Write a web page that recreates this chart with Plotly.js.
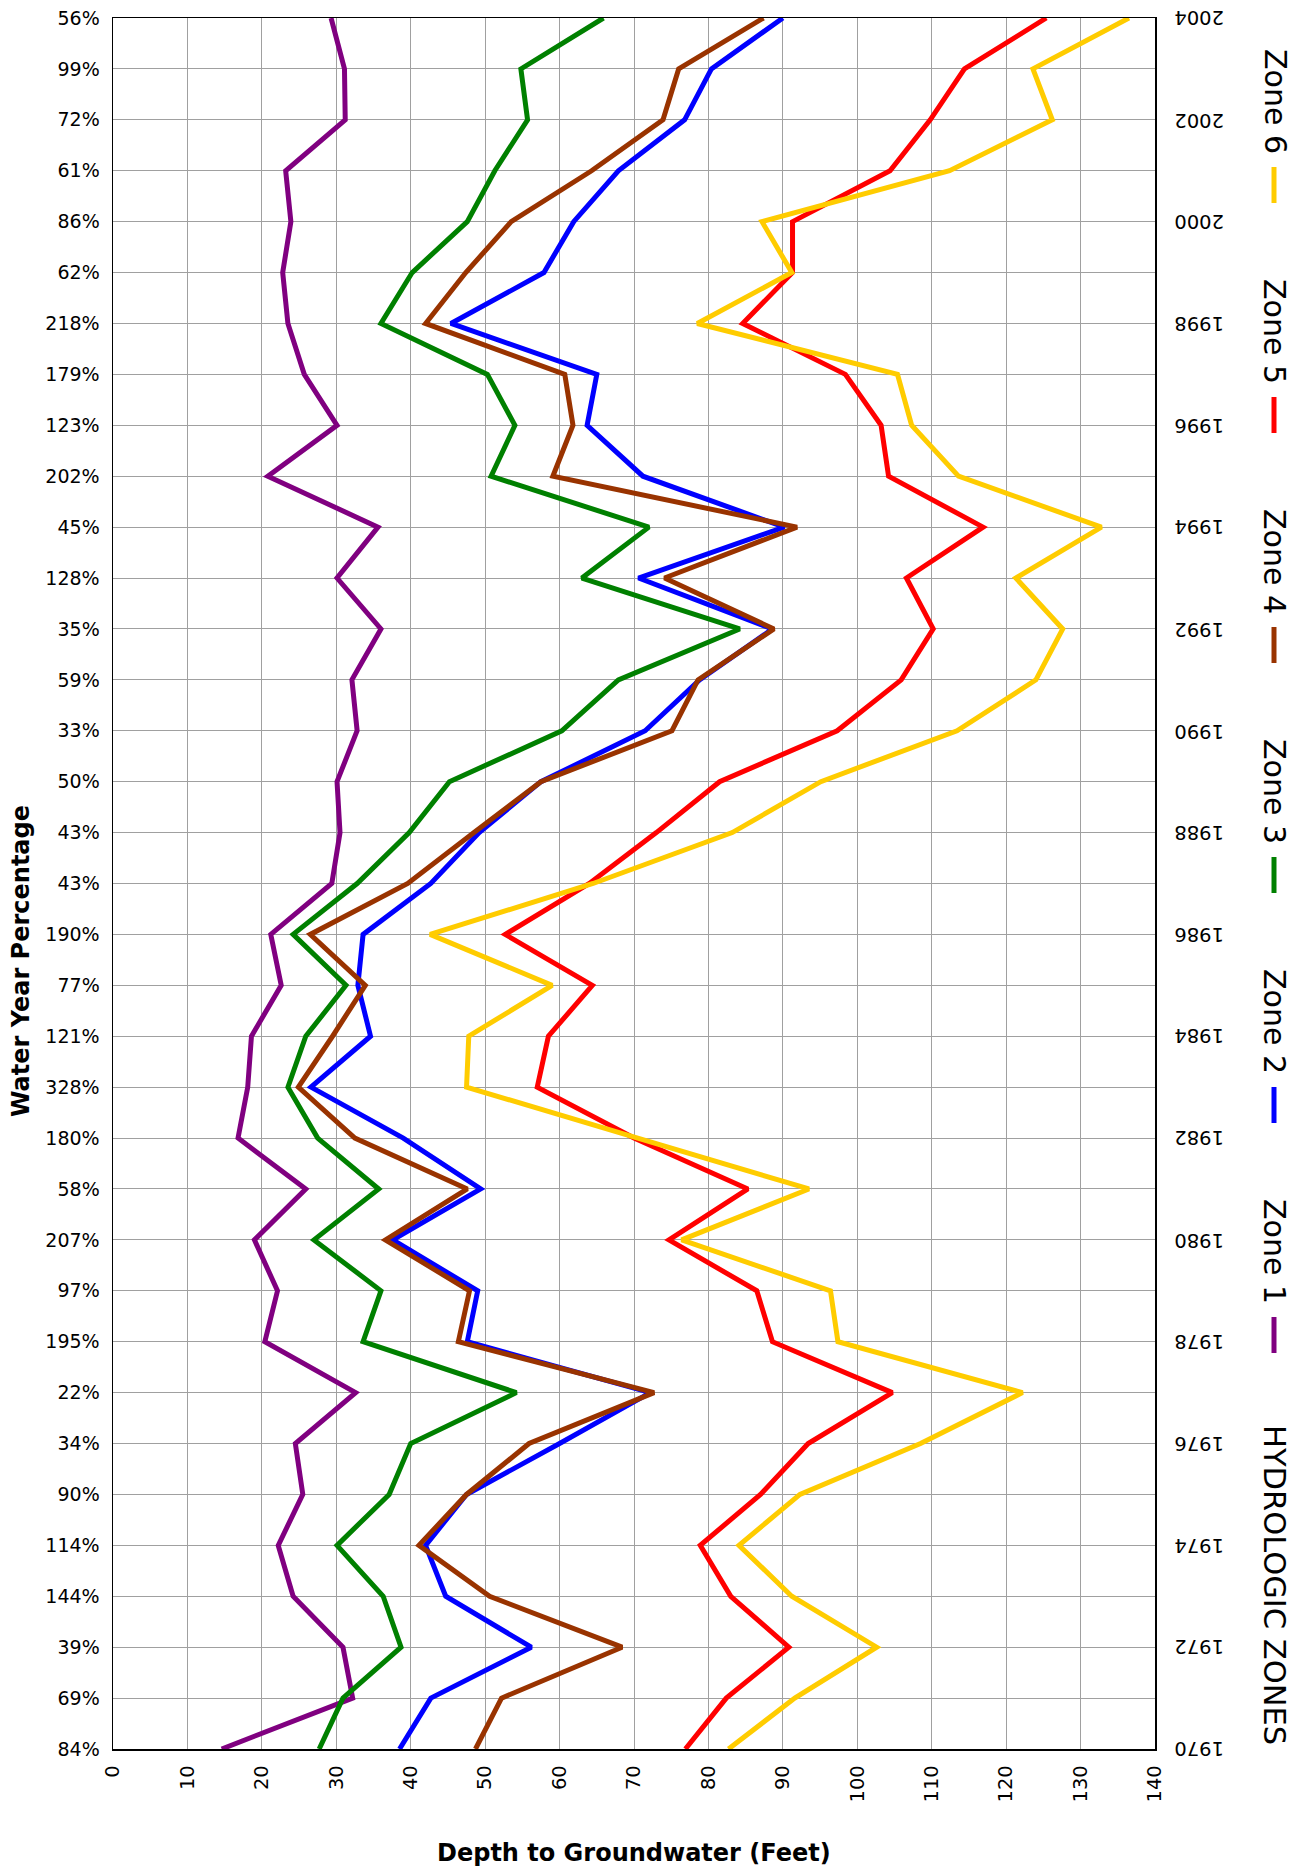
<!DOCTYPE html>
<html>
<head>
<meta charset="utf-8">
<script src="https://cdn.plot.ly/plotly-3.0.1.min.js"></script>
<style>
  html, body { margin: 0; padding: 0; background: #ffffff; }
  #chart { width: 1304px; height: 1873px; }
</style>
</head>
<body>
<div id="chart"></div>
<script>
// ---- Data ----
const years = [1970, 1971, 1972, 1973, 1974, 1975, 1976, 1977, 1978, 1979,
               1980, 1981, 1982, 1983, 1984, 1985, 1986, 1987, 1988, 1989,
               1990, 1991, 1992, 1993, 1994, 1995, 1996, 1997, 1998, 1999,
               2000, 2001, 2002, 2003, 2004];

const waterYearPct = ["84%", "69%", "39%", "144%", "114%", "90%", "34%", "22%", "195%", "97%",
                      "207%", "58%", "180%", "328%", "121%", "77%", "190%", "43%", "43%", "50%",
                      "33%", "59%", "35%", "128%", "45%", "202%", "123%", "179%", "218%", "62%",
                      "86%", "61%", "72%", "99%", "56%"];

const yearTicks = [1970, 1972, 1974, 1976, 1978, 1980, 1982, 1984, 1986, 1988,
                   1990, 1992, 1994, 1996, 1998, 2000, 2002, 2004];

const depthTicks = [0, 10, 20, 30, 40, 50, 60, 70, 80, 90, 100, 110, 120, 130, 140];

const zone1 = [14.6, 32.2, 30.9, 24.2, 22.2, 25.5, 24.5, 32.6, 20.4, 22.1,
               19.0, 25.9, 16.8, 18.1, 18.6, 22.6, 21.2, 29.4, 30.5, 30.1,
               32.8, 32.1, 36.0, 30.1, 35.6, 20.8, 30.1, 25.7, 23.5, 22.8,
               23.9, 23.2, 31.2, 31.1, 29.3];

const zone2 = [38.5, 42.7, 56.2, 44.7, 42.0, 47.5, 60.0, 72.2, 47.6, 49.0,
               37.6, 49.4, 39.0, 26.6, 34.6, 32.9, 33.6, 42.7, 49.2, 57.5,
               71.5, 78.8, 88.6, 70.6, 90.2, 71.2, 63.7, 65.0, 45.4, 57.9,
               61.9, 67.9, 76.8, 80.4, 90.0];

const zone3 = [27.7, 30.9, 38.7, 36.3, 30.1, 37.1, 40.0, 54.2, 33.6, 36.0,
               27.0, 35.7, 27.5, 23.5, 25.9, 31.3, 24.2, 32.8, 39.8, 45.2,
               60.3, 67.9, 84.2, 63.0, 72.0, 50.8, 54.0, 50.3, 36.0, 40.2,
               47.6, 51.3, 55.7, 54.8, 65.9];

const zone4 = [48.7, 52.2, 68.4, 50.6, 41.1, 47.5, 55.9, 72.7, 46.4, 47.9,
               36.6, 47.6, 32.5, 24.9, 29.5, 33.9, 26.5, 39.6, 48.5, 57.5,
               75.1, 78.6, 88.8, 74.1, 91.9, 59.1, 61.8, 60.7, 42.0, 47.4,
               53.5, 64.3, 73.9, 76.0, 87.4];

const zone5 = [76.9, 82.4, 90.8, 83.0, 78.9, 87.0, 93.4, 104.7, 88.6, 86.5,
               74.7, 85.3, 70.0, 57.0, 58.5, 64.4, 52.7, 64.0, 73.0, 81.5,
               97.3, 105.9, 110.2, 106.6, 116.9, 104.2, 103.2, 98.4, 84.6, 91.3,
               91.3, 104.4, 109.8, 114.4, 125.4];

const zone6 = [82.7, 91.6, 102.6, 91.2, 84.1, 92.3, 108.5, 122.2, 97.4, 96.4,
               76.4, 93.5, 70.5, 47.5, 47.8, 59.0, 42.6, 64.5, 83.2, 95.1,
               113.4, 124.0, 127.6, 121.3, 132.8, 113.6, 107.3, 105.4, 78.5, 91.2,
               87.2, 112.4, 126.2, 123.6, 136.5];

const zoneNames = ["Zone 1", "Zone 2", "Zone 3", "Zone 4", "Zone 5", "Zone 6"];
const zoneData = [zone1, zone2, zone3, zone4, zone5, zone6];
const zoneColors = ["#800080", "#0000FF", "#008000", "#993300", "#FF0000", "#FFCC00"];

// ---- Geometry (pixels) ----
const W = 1304, H = 1873;
const M = { l: 113, r: 149, t: 18, b: 124 };
const PW = W - M.l - M.r, PH = H - M.t - M.b;
const px2x = (px) => (px - M.l) / PW;
const py2y = (py) => (H - M.b - py) / PH;

const FONT = "DejaVu Sans, Verdana, sans-serif";

const traces = zoneData.map((vals, i) => ({
  type: "scatter",
  mode: "lines",
  x: vals,
  y: years,
  name: zoneNames[i],
  line: { color: zoneColors[i], width: 5 },
  showlegend: false
}));

const annotations = [];
const shapes = [];

// ---- Right-side year labels (upside down), placed on the y data scale ----
yearTicks.forEach((yr) => {
  annotations.push({
    xref: "paper", yref: "y", x: px2x(1199), y: yr,
    text: String(yr), textangle: 180, showarrow: false,
    font: { family: FONT, size: 19.5, color: "#000000" },
    xanchor: "center", yanchor: "middle"
  });
});

// ---- Legend (rotated) built from zone arrays ----
const legendX = px2x(1275);
for (let k = 0; k < zoneNames.length; k++) {
  const idx = zoneNames.length - 1 - k; // Zone 6 at top
  const cy = 101 + 230 * k;
  annotations.push({
    xref: "paper", yref: "paper", x: legendX, y: py2y(cy),
    text: zoneNames[idx], textangle: 90, showarrow: false,
    font: { family: FONT, size: 30, color: "#000000" },
    xanchor: "center", yanchor: "middle"
  });
  shapes.push({
    type: "line", xref: "paper", yref: "paper",
    x0: px2x(1274), x1: px2x(1274), y0: py2y(cy + 66), y1: py2y(cy + 102),
    line: { color: zoneColors[idx], width: 5 }
  });
}
annotations.push({
  xref: "paper", yref: "paper", x: legendX, y: py2y(1585),
  text: "HYDROLOGIC ZONES", textangle: 90, showarrow: false,
  font: { family: FONT, size: 30.5, color: "#000000" },
  xanchor: "center", yanchor: "middle"
});
// y-axis title
annotations.push({
  xref: "paper", yref: "paper", x: px2x(21), y: py2y(961),
  text: "<b>Water Year Percentage</b>", textangle: -90, showarrow: false,
  font: { family: FONT, size: 24, color: "#000000" },
  xanchor: "center", yanchor: "middle"
});
// x-axis title
annotations.push({
  xref: "paper", yref: "paper", x: px2x(634), y: py2y(1853),
  text: "<b>Depth to Groundwater (Feet)</b>", showarrow: false,
  font: { family: FONT, size: 24, color: "#000000" },
  xanchor: "center", yanchor: "middle"
});

const layout = {
  width: W, height: H,
  margin: M,
  paper_bgcolor: "#ffffff",
  plot_bgcolor: "#ffffff",
  showlegend: false,
  font: { family: FONT, size: 19, color: "#000000" },
  xaxis: {
    range: [0, 140], tickvals: depthTicks, ticktext: depthTicks.map(String),
    tickangle: -90, showgrid: true, gridcolor: "#a0a0a0", gridwidth: 1,
    zeroline: false, showline: true, linecolor: "#000000", linewidth: 1.5,
    mirror: true, ticks: "", ticklabelstandoff: 7,
    tickfont: { family: FONT, size: 19.5, color: "#000000" }
  },
  yaxis: {
    range: [1970, 2004], tickvals: years, ticktext: waterYearPct,
    showgrid: true, gridcolor: "#a0a0a0", gridwidth: 1,
    zeroline: false, showline: true, linecolor: "#000000", linewidth: 1.5,
    mirror: true, ticks: "", ticklabelstandoff: 8,
    tickfont: { family: FONT, size: 19, color: "#000000" }
  },
  annotations: annotations,
  shapes: shapes
};

Plotly.newPlot("chart", traces, layout, { displayModeBar: false, staticPlot: true });
</script>
</body>
</html>
